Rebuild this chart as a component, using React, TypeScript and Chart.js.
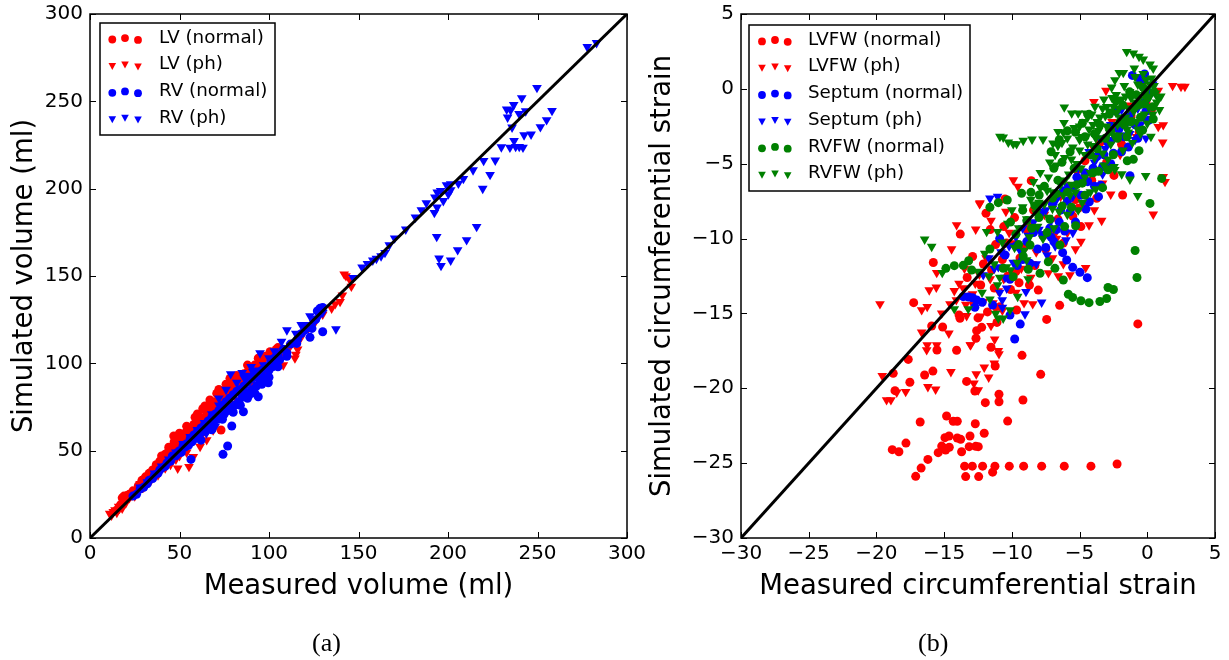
import React, { useEffect, useRef } from "react";
import { Chart, registerables } from "chart.js";

Chart.register(...registerables);

type P = number[];

// ---------- panel (a): volumes ----------
const volumeTicks = [0, 50, 100, 150, 200, 250, 300];
const volumeIdentity: P[] = [[0, 0], [300, 300]];
const volumeLabels = ["LV (normal)", "LV (ph)", "RV (normal)", "RV (ph)"];

const lvNormalVolume: P[] = [
  [15,16],[17,19],[18,23],[19,24],[20,22],[21,24.5],[22,25],[23,24],[24,27],[25,26],[27,30],[28,29],[29,33],[30,32],[31,35],[33,37],[34,36],[35,39],[36,38],[37,42],[38,41],[39,44],[40,43],[41,46],[42,48],[43,45],[44,50],[45,47],[46,52],[46.8,58.4],[47,55],[48,50],[49,54],[50,56],[51,53],[52,58],[53,60],[54,56],[55,63],[56,60],[57,62],[58.7,69.1],[58,65],[59,61],[60,67],[61,64],[62,69],[63,66],[64.2,75.6],[65,70],[66,73],[67,68],[68,76],[69,72],[70.8,82.8],[70,78],[71,74],[72,81],[73,77],[73.2,61.8],[74,83],[75,79],[76,84],[77,80],[78,85],[78.2,91.4],[79,76],[80,88],[81,84],[82,90],[83,87],[84,92],[85,88],[86,94],[87,91],[88,95],[89,92],[90,97],[91,94],[92,99],[94,102.9],[95,98],[96,101],[98,104],[100.6,106.6],[102,105],[104,108],[105,109],
  [40,47],[44,52],[50,60],[54,64],[60,71],[63,74],[67,79],[72,85],[76,88],[82,93],[88,99]
];
const lvPhVolume: P[] = [
  [11,14],[12,13],[13,15],[14,16],[15,14.5],[16,18],[18,17],[20,20],[22,23],[25,24],[28,31],[30,29],[32,35],[34,33],[36,37],[38,36],[40,41],[42,40],[44,46],[45,42],[46,48],[48,45],[49,39.9],[50,47],[52,50],[54,49],[55.3,40.8],[56,55],[57.7,46.5],[58,56],[60,60],[61.5,52.3],[62,58],[64,65],[65.2,56.1],[66,62],[68,70],[68.8,61.8],[70,67],[72,74],[74,71],[76,78],[78,75],[80,82],[82,79],[84,86],[86,84],[88,90],[90,88],[92,94],[94,92],[96,98],[98,96],[100,102],[102,99],[104,106],[106,104],[108,99],[110,108],[112,110],[114.5,102.9],[115,105],[116,108],[118,115],[122,120],[126,124],[130,128],[135,131.5],[137,134],[139.7,135.3],[141,139],[142,151],[143,150],[145,148],[146,144]
];
const rvNormalVolume: P[] = [
  [24,24],[26,25],[28,28],[30,29],[32,31],[33,33],[35,34],[36,36],[38,37],[39,39],[40,40],[42,41],[43,43],[44,44],[45,44],[46,47],[48,47],[49,49],[50,50],[51,49],[52,53],[53,52],[54,54],[55,53],[56,57],[56.4,45],[57,55],[58,59],[59,57],[60,61],[61,59],[62,63],[63,61],[64,65],[65,63],[66,67],[67,65],[68,69],[69,66],[70,71],[71,68],[72,73],[73,70],[74,76],[74.3,47.9],[75,71],[76.9,52.7],[76,78],[77,73],[78,80],[79.2,64.1],[79,75],[80,82],[81,76],[82,84],[83,78],[84,85],[85.7,72.3],[85,81],[86,87],[87,83],[88,89],[89,82],[90,91],[91,85],[92,92],[93,87],[94,80.9],[94,94],[95,90],[96,96],[97,92],[98,98],[99.6,88.9],[100,96],[101,101],[102,98],[103,103],[104,100],[105,105],[106,102],[108,108],[110,106],[112,111],[115.5,111.4],[116,114],[118,117],[120,119],[122.9,114.9],[124,120],[126,125],[127,130],[128.5,131.5],[130,132],[130,118.1],
  [62,56],[68,62],[74,68],[80,72],[84,76],[88,80],[92,83],[96,88],[100,92],[105,98],[110,104]
];
const rvPhVolume: P[] = [
  [28,29],[32,32],[36,37],[40,41],[44,45],[48,49],[52,54],[56,58],[60,62],[64,66],[65,60],[68,71],[70,64],[72,76],[72,80],[75,70],[76,85],[78.6,93.9],[80,75],[82,89],[85,94.6],[85,80],[86,92],[88,93],[90,85],[90,98],[91,95.2],[93,96],[95,105.9],[95,91],[97,99],[100,103],[103,107],[105,103],[107,112.4],[110,119],[115,117],[118,122],[120,122],[122.9,127],[125,123],[128,127],[130,129],[137.4,119.6],[147,149],[152,155],[155,157],[158,159],[160,160],
  [162.6,161.4],[164.8,163.3],[167.2,167.7],[170.2,171.6],[176.4,176.7],[181.8,183.6],[185.1,187.8],[187.9,191.8],[192.4,186.2],[193.9,189.3],[192.7,195],[193.7,172.5],[194,197.9],[195.9,198.8],[195,160.1],[196.1,155.9],[197.4,193],[199.2,202],[200.2,196.9],[201.5,202.6],[201.5,199.2],[201.5,159],[205.4,164.9],[205.8,203],[208.6,205.7],[210.4,170.6],[214,210.6],[216,178.2],[219.4,200],[219.9,216],[223.5,208],[226.4,216.2],[229.8,223.8],[232.8,245.4],[233.3,240.8],[234.6,223.6],[235,245],[235.8,235.1],[236.7,248],[236.9,227.4],[237.8,224],[239.7,242.9],[239.8,224],[241.2,251.9],[241.9,223.6],[242.5,230.7],[243.4,244.4],[246.4,231.1],[249.7,257.8],[251.6,235.3],[255.1,239.3],[258.1,244.6],[277.8,281.2],[283,283.5]
];

// ---------- panel (b): strains ----------
const strainTicks = [-30, -25, -20, -15, -10, -5, 0, 5];
const strainIdentity: P[] = [[-30, -30], [5, 5]];
const strainLabels = ["LVFW (normal)", "LVFW (ph)", "Septum (normal)", "Septum (ph)", "RVFW (normal)", "RVFW (ph)"];

const lvfwNormal: P[] = [
  [-2.23,-25.06],[-4.16,-25.2],[-6.13,-25.2],[-7.8,-25.2],[-9.13,-25.2],[-10.19,-25.2],[-11.25,-25.2],[-12.16,-25.2],[-12.92,-25.2],[-13.49,-25.2],[-11.42,-25.6],[-12.45,-25.9],[-13.41,-25.9],[-17.1,-25.88],[-16.7,-25.33],[-16.2,-24.75],[-18.83,-24.1],[-18.34,-24.24],[-17.82,-23.66],[-16.77,-22.25],[-14.82,-21.85],[-14.33,-22.2],[-14.03,-22.2],[-12.7,-22.37],[-10.31,-22.19],[-12.04,-23.0],[-13.09,-23.19],[-14.03,-23.32],[-13.78,-23.41],[-14.94,-23.3],[-14.64,-23.19],[-13.15,-23.9],[-12.67,-23.88],[-12.48,-23.9],[-13.71,-24.24],[-14.62,-23.94],[-14.89,-24.12],[-15.44,-24.3],[-15.18,-23.86],[-15.0,-24.0],
  [-17.65,-18.07],[-18.76,-19.0],[-16.44,-19.11],[-15.83,-18.85],[-17.53,-19.6],[-18.63,-20.16],[-13.34,-19.54],[-12.73,-20.18],[-11.96,-20.96],[-10.95,-20.4],[-10.95,-20.9],[-9.18,-20.78],[-7.87,-19.07],[-9.25,-17.8],[-11.23,-18.51],[-11.54,-17.26],[-14.08,-17.46],[-15.53,-17.44],
  [-13.81,-9.7],[-15.8,-11.6],[-17.25,-14.28],[-13.83,-15.33],[-15.92,-15.84],[-15.11,-15.91],[-12.6,-16.15],[-12.23,-15.93],[-12.65,-16.66],[-7.43,-15.4],[-6.47,-14.46],[-8.05,-13.44],[-9.47,-12.95],[-9.65,-14.77],[-10.88,-14.55],[-11.91,-8.31],[-10.51,-7.36],
  [-2.46,-5.78],[-1.82,-7.09],[-3.74,-7.31],[-8.57,-6.13],[-5.1,-7.98],[-0.7,-15.7],[-11.2,-10.4],[-10.6,-9.2],[-9.8,-8.6],[-9.1,-10.6],[-8.4,-8.1],[-7.7,-9.8],[-7.1,-7.4],[-6.6,-8.7],[-5.8,-6.5],[-5.3,-7.4],[-4.6,-4.8],[-4.1,-6.1],[-3.5,-3.6],[-3.0,-4.9],[-2.4,-2.6],[-1.9,-3.7],[-1.2,-1.8],[-0.6,-2.9],[-0.1,-0.9],[-12.3,-13.1],[-11.5,-12.1],[-10.7,-11.4],[-10.1,-13.4],
  [-12.8,-14.3],[-12.1,-11.7],[-11.3,-13.3],[-10.3,-12.5],[-9.4,-11.3],[-8.9,-9.4],[-8.3,-11.8],[-7.5,-10.7],[-6.9,-9.6],[-6.2,-10.3],[-5.5,-8.5],[-4.9,-9.2],
  [-13.9,-15.1],[-13.3,-12.6],[-12.5,-15.3],[-11.8,-14.9],[-11.1,-15.6],[-10.4,-10.3],[-9.7,-12.2],[-8.7,-13.1],[-12.9,-11.2],[-11.6,-9.4]
];
const lvfwPh: P[] = [
  [-19.74,-14.37],[-12.38,-7.69],[-14.08,-9.09],[-12.67,-9.38],[-14.45,-10.7],[-15.55,-12.28],[-16.1,-13.44],[-15.58,-13.26],[-14.25,-13.49],[-16.66,-14.77],[-16.25,-14.55],[-15.18,-14.99],[-14.57,-14.37],[-13.34,-15.16],[-11.54,-15.82],[-16.66,-16.26],[-14.65,-16.33],[-16.25,-17.11],[-16.29,-17.44],[-15.55,-17.11],[-13.04,-17.11],[-11.27,-16.73],[-11.0,-17.49],[-10.95,-17.71],[-8.46,-14.37],[-5.71,-12.43],[-4.55,-11.95],[-6.57,-12.5],[-11.54,-8.8],
  [-19.57,-19.16],[-19.25,-20.78],[-18.93,-20.78],[-18.5,-20.27],[-17.84,-20.23],[-16.2,-19.9],[-15.63,-20.07],[-14.5,-18.9],[-12.63,-19.05],[-12.04,-18.6],[-11.71,-19.27],[-12.8,-19.67],[-12.48,-20.12],[-11.3,-18.33],[-13.07,-17.11],
  [1.87,0.21],[2.49,0.15],[2.78,0.15],[-3.05,-0.12],[-3.94,-0.86],[0.81,-0.12],[0.81,-2.53],[1.18,-2.41],[1.14,-3.57],[1.18,-5.87],[1.31,-6.2],[-2.7,-7.05],[0.44,-8.38],[-3.37,-8.8],[-3.91,-8.09],[-9.89,-6.09],[-9.55,-6.53],[-12.36,-7.63],[-10.44,-8.2],
  [-13.2,-13.8],[-12.7,-13.0],[-12.1,-14.2],[-11.6,-12.7],[-11.0,-13.5],[-10.5,-11.2],[-9.9,-10.3],[-9.3,-12.0],[-8.8,-9.1],[-8.2,-10.9],[-7.6,-8.4],[-7.0,-11.3],[-6.4,-7.2],[-5.9,-9.6],[-5.2,-5.6],[-4.7,-7.8],[-4.0,-3.9],[-3.3,-6.3],[-2.6,-2.2],[-2.0,-4.4],[-1.4,-1.1],[-0.8,-3.2],[-0.3,0.3],[0.3,-1.6],[-11.9,-11.3],[-13.9,-13.0],[-13.5,-12.0],[-10.2,-9.6],
  [-13.4,-14.4],[-12.4,-12.4],[-11.2,-14.7],[-10.7,-14.8],[-10.6,-12.7],[-9.7,-13.6],[-8.6,-12.6],[-7.3,-12.3],[-6.7,-10],[-5.3,-10.7],[-4.3,-9.1],
  [-14.1,-14.1],[-13.6,-13.3],[-12.9,-13.7],[-12.3,-15.2],[-11.4,-14.3],[-9.1,-14.3],[-6.2,-11.7],[-4.9,-10.2]
];
const septumNormal: P[] = [
  [-1.4,-3.88],[-3.44,-6.44],[-1.28,-5.8],[-4.28,-7.54],[-4.53,-8.03],[-9.38,-15.71],[-9.79,-16.71],[-10.14,-15.11],[-11.42,-14.44],[-12.73,-14.59],[-12.19,-14.26],[-13.59,-13.88],[-13.2,-13.9],[-12.9,-13.95],[-12.6,-14.1],[-4.97,-12.25],[-4.43,-12.61],[-5.51,-11.92],[-5.95,-11.43],[-6.25,-10.94],[-10.14,-12.72],[-8.66,-11.65],
  [-8.1,-10.7],[-7.7,-9.8],[-7.2,-9.3],[-6.9,-10.2],[-6.5,-8.9],[-6.1,-9.5],[-5.7,-8.2],[-5.3,-8.9],[-4.9,-7.1],[-4.4,-6.2],[-4.0,-5.3],[-3.7,-4.5],[-3.3,-5.2],[-2.9,-3.6],[-2.5,-4.3],[-2.1,-2.7],[-1.7,-3.2],[-1.3,-1.7],[-0.9,-2.4],[-0.5,-0.9],[-0.1,-1.5],[0.2,-0.3],[-0.6,0.7],[-0.2,1.0],[-1.1,0.9],[-9.2,-11.4],[-9.7,-10.5],[-10.5,-11.1],[-7.9,-8.3],[-7.0,-7.7],[-6.2,-6.8],[-5.2,-5.9],[-0.4,-1.9],[0.1,-2.1],[-2.3,-1.5],
  [-7.5,-10.6],[-7.1,-9.9],[-6.7,-9.4],[-6.4,-8.1],[-5.9,-7.5],[-5.5,-6.6],[-4.6,-5.6],[-3.9,-6.5],[-3.2,-4.4],[-2.7,-5],[-1.9,-4.2],[-1.5,-2.1],[-0.7,-3.3],[-8.4,-9.6],[-8.9,-10.2],[-9.6,-11.8],[-10.9,-10],[-3.6,-7.2]
];
const septumPh: P[] = [
  [-11.62,-7.31],[-11.05,-7.2],[-8.96,-13.55],[-7.8,-14.26],[-9.03,-15.04],[-10.71,-14.1],[-10.38,-13.32],[-12.11,-12.43],[-10.9,-13.6],[-11.3,-12.0],[-10.8,-10.9],[-10.2,-10.5],[-9.7,-9.9],[-9.2,-9.3],[-8.8,-9.8],[-8.4,-8.9],[-8,-9.4],[-7.5,-8.1],[-7.1,-8.8],[-6.7,-7.4],[-6.3,-7.9],[-5.9,-6.5],[-5.5,-7.2],[-5.1,-5.3],[-4.7,-6],[-4.3,-4.2],[-3.9,-4.9],[-3.5,-3.3],[-3.1,-4],[-2.7,-2.4],[-2.3,-3.2],[-1.9,-1.4],[-1.5,-2.3],[-1.1,-0.4],[-0.7,-1.3],[-0.3,0.5],[0.1,-0.6],[0.4,0.3],[-6.8,-10.5],[-6,-10.1],[-5.5,-9.6],[-7.4,-11.1],[-8.2,-11.7],[-0.1,-3.3],[-0.9,-3.4],
  [-11.7,-11.3],[-11,-11.9],[-10.5,-12.6],[-9.9,-11.6],[-9.4,-10.8],[-10.7,-14.6],[-3.3,-5.7],[-2.5,-3.4],[-1.3,-3],[-0.5,-2.4]
];
const rvfwNormal: P[] = [
  [1.06,-5.98],[0.2,-7.65],[-0.61,-4.13],[-1.03,-4.71],[-1.48,-4.8],[0.44,-2.01],[-0.34,-2.75],[-0.9,-10.8],[-0.76,-12.6],[-2.9,-13.27],[-2.5,-13.4],[-3.5,-14.2],[-3.0,-14.0],[-5.83,-13.72],[-5.51,-13.93],[-4.9,-14.15],[-4.3,-14.28],
  [-14.87,-11.99],[-14.25,-11.81],[-13.59,-11.79],[-13.19,-11.48],[-12.97,-12.1],[-11.62,-7.91],[-11,-7.6],[-10.34,-7.42],[-11.62,-10.7],[-8.66,-10.43],[-7.92,-12.32],[-6.2,-12.77],[-7.31,-11.55],[-6.82,-11.99],[-6.45,-10.43],[-7.19,-8.71],[-8.54,-9.31],[-9.28,-6.98],[-8.59,-6.91],[-7.98,-7.09],[-6.28,-7.83],[-5.29,-9.14],[-10.64,-11.99],[-9.9,-12.55],[-8.79,-12.05],[-9.16,-11.17],
  [-10.1,-8.9],[-9.7,-9.7],[-9.2,-8.1],[-8.3,-7.8],[-7.6,-6.5],[-7.0,-7.3],[-6.6,-6.1],[-5.9,-6.9],[-5.4,-5.3],[-4.8,-6.3],[-4.2,-4.4],[-3.6,-5.5],[-3.1,-3.3],[-2.5,-4.4],[-2.0,-2.2],[-1.5,-3.2],[-1,-1.3],[-0.5,-1.9],[0,-0.6],[0.4,-1.2],
  [-6.9,-5.3],[-6.3,-4.9],[-5.7,-4.2],[-5.2,-6.4],[-4.6,-3.2],[-4,-5.6],[-3.5,-2.4],[-3.3,-6.6],[-2.8,-1.7],[-2.2,-3.3],[-1.8,-1.1],[-1.2,-2.2],[-0.8,-0.4],[-0.2,-1],[-9.5,-10.4],[-8.9,-8.8],[-8,-8.6],[-7.4,-9.6],[-6.1,-9.2],[-5.6,-7.9],
  [-7.1,-4.2],[-6.5,-3.4],[-5.9,-2.8],[-5.3,-2.9],[-4.8,-2.3],[-4.3,-1.7],[-3.7,-4],[-2.7,-2.8],[-2.3,-0.8],[-1.7,-2.4],[-1.3,-0.2],[-0.7,-1.1],[-0.2,0],[0.5,-0.2],[-6.7,-7],[-4.6,-7.1],[-3.9,-3],[-2.9,-5.4]
];
const rvfwPh: P[] = [
  [-16.44,-10.05],[-15.92,-10.54],[-15.14,-12.28],[-14.25,-14.7],[-13.22,-14.7],[-11.62,-14.05],[-9.57,-13.88],[-10.14,-14.77],[-11.2,-15],[-11,-15.33],[-10.64,-15.33],[-11.86,-9.54],[-11.05,-9.54],[-10.71,-10.25],[-11.05,-13.1],[-8.91,-11.43],[-11.3,-11.7],[-10.4,-11.9],
  [-1.52,2.48],[-1.03,2.37],[-0.61,2.15],[-0.3,1.97],[0.2,1.64],[0.44,1.37],[-0.96,1.37],[-2.07,1.08],[-1.77,1.08],[-2.39,0.59],[-2.63,0.1],
  [-10.88,-3.19],[-10.64,-3.24],[-10.26,-3.57],[-9.9,-3.68],[-9.65,-3.68],[-9.16,-3.46],[-8.51,-3.37],[-7.7,-3.37],[-6.96,-3.64],[-6.59,-2.86],[-6.2,-2.9],[-6.15,-2.26],[-6.13,-1.23],[-5.58,-1.63],[-5.1,-1.63],[-4.53,-1.63],[-3.86,-1.19],[-3.2,-0.7],[0.81,-0.63],[0.27,-3.19],[-0.12,-5.8],[-0.71,-7.14],[-1.28,-6.04],[-1.89,-5.69],[-2.46,-5.2],
  [-9.2,-7.9],[-8.9,-8.7],[-8.6,-7.4],[-8.2,-8.3],[-7.9,-6.6],[-7.6,-7.7],[-7.3,-5.9],[-7,-6.9],[-6.7,-5.1],[-6.4,-6.4],[-6.1,-4.6],[-5.8,-5.7],[-5.5,-3.9],[-5.2,-5],[-4.9,-3.2],[-4.6,-4.4],[-4.3,-2.7],[-4,-3.8],[-3.7,-2.2],[-3.4,-3.3],[-3.1,-1.8],[-2.8,-2.9],[-2.5,-1.2],[-2.2,-2.4],[-1.9,-0.7],[-1.6,-1.9],[-1.3,-0.2],[-1,-1.5],[-0.7,0.3],[-0.4,-1],[-0.1,0.6],[0.2,-0.5],[0.5,0.2],[0.7,-0.9],[-5,-2.5],[-4.4,-1.9],[-3.8,-3.3],[-3.3,-4.3],[-2.7,-3.7],[-2.1,-3.1],[-1.5,-2.7],[-6.6,-3.8],[-7.2,-4.9],[-7.9,-5.6],[-8.4,-6.2],[-5.6,-6.4],[-4.9,-5.3],
  [-8.7,-9.9],[-8.1,-9.2],[-7.7,-10],[-7.3,-8.6],[-6.9,-9.3],[-6.5,-8.2],[-6.2,-7.1],[-5.9,-8.4],[-5.6,-4.7],[-5.3,-6.9],[-5,-4.1],[-4.8,-7.6],[-4.5,-3.2],[-4.2,-5.6],[-4,-2.4],[-3.8,-6.7],[-3.5,-1.9],[-3.2,-5.1],[-3,-1.2],[-2.9,-4.7],[-2.6,-0.6],[-2.4,-5.4],[-2.3,-1.6],[-2,-1.9],[-1.8,-4.1],[-1.7,0.2],[-1.4,-2.9],[-1.2,-0.6],[-1.1,-3.6],[-0.9,0.8],[-0.8,-2.2],[-0.6,-0.7],[-0.5,-3],[-0.3,1],[-0.2,-1.7],[0,0],[0.1,-1.2],[0.3,0.7],[0.4,-1.7],[0.6,-0.3],[0.9,-1.4],[1,-0.5],
  [-10.3,-9],[-10,-8.1],[-9.8,-10.6],[-9.5,-9.3],[-9.1,-10.8],[-12,-11],[-12.5,-12.2],[-12.2,-13.6],[-11.7,-12.5],[-10.9,-12.6],[-10.1,-12.1],[-9.6,-11.6],[-8.8,-12.7],
  [-6.8,-4.4],[-6.3,-3.6],[-5.9,-3.3],[-5.4,-2.6],[-5,-3.4],[-4.7,-2.2],[-4.4,-3.7],[-4.1,-1.7],[-3.9,-4.6],[-3.6,-2.8],[-3.3,-1.3],[-3,-2.5],[-2.7,-1.5],[-2.5,-3.1],[-2.3,-0.4],[-2.1,-1.3],[-1.9,-2.1],[-1.6,-0.5],[-1.4,-1.3],[-1.2,-2.1],[-0.9,-0.9],[-0.7,-2.7],[-0.5,0.2],[-0.2,-0.4],[0,-2.3],[0.2,0.3],[-7,-8],[-6.1,-6.1],[-5.7,-7.1],[-5.1,-8.1],[-4.6,-5.9],[-4.2,-6.9],[-7.4,-6.8],[-8,-7.6]
];

type SeriesDef = { label: string; data: P[]; color: string; style: "circle" | "triangle" };

const RED = "#ff0000";
const BLUE = "#0000ff";
const GREEN = "#008000";
const FONT = "'DejaVu Sans'";

const volumeSeries: SeriesDef[] = [
  { label: volumeLabels[0], data: lvNormalVolume, color: RED, style: "circle" },
  { label: volumeLabels[1], data: lvPhVolume, color: RED, style: "triangle" },
  { label: volumeLabels[2], data: rvNormalVolume, color: BLUE, style: "circle" },
  { label: volumeLabels[3], data: rvPhVolume, color: BLUE, style: "triangle" },
];
const strainSeries: SeriesDef[] = [
  { label: strainLabels[0], data: lvfwNormal, color: RED, style: "circle" },
  { label: strainLabels[1], data: lvfwPh, color: RED, style: "triangle" },
  { label: strainLabels[2], data: septumNormal, color: BLUE, style: "circle" },
  { label: strainLabels[3], data: septumPh, color: BLUE, style: "triangle" },
  { label: strainLabels[4], data: rvfwNormal, color: GREEN, style: "circle" },
  { label: strainLabels[5], data: rvfwPh, color: GREEN, style: "triangle" },
];

type PanelCfg = {
  series: SeriesDef[];
  identity: P[];
  ticks: number[];
  xTitle: string;
  yTitle: string;
  width: number;
  plotLeft: number;
  plotRight: number;
  yTitlePad: number;
  legendBox: { l: number; t: number; r: number; b: number };
  markerX: number[];
  textX: number;
  rowY: number[];
};

const fmt = (v: number) => String(v).replace("-", "\u2212");

function buildChart(canvas: HTMLCanvasElement, c: PanelCfg) {
  const min = c.ticks[0];
  const max = c.ticks[c.ticks.length - 1];
  const step = c.ticks[1] - c.ticks[0];

  const framePlugin = {
    id: "frameAndLegend",
    afterDraw(chart: any) {
      const { ctx, chartArea: a, scales } = chart;
      ctx.save();
      ctx.strokeStyle = "#000";
      ctx.lineWidth = 1;
      ctx.beginPath();
      for (const t of c.ticks) {
        const x = Math.round(scales.x.getPixelForValue(t)) + 0.5;
        const y = Math.round(scales.y.getPixelForValue(t)) + 0.5;
        ctx.moveTo(x, a.bottom); ctx.lineTo(x, a.bottom - 6);
        ctx.moveTo(x, a.top); ctx.lineTo(x, a.top + 6);
        ctx.moveTo(a.left, y); ctx.lineTo(a.left + 6, y);
        ctx.moveTo(a.right, y); ctx.lineTo(a.right - 6, y);
      }
      ctx.stroke();
      ctx.lineWidth = 1.5;
      ctx.strokeRect(a.left, a.top, a.right - a.left, a.bottom - a.top);

      // legend with three scatter points per entry
      const b = c.legendBox;
      ctx.fillStyle = "#fff";
      ctx.fillRect(b.l, b.t, b.r - b.l, b.b - b.t);
      ctx.lineWidth = 1.5;
      ctx.strokeRect(b.l, b.t, b.r - b.l, b.b - b.t);
      const jitter = [1, -0.4, 1.4];
      c.series.forEach((s, i) => {
        const y0 = c.rowY[i];
        ctx.fillStyle = s.color;
        c.markerX.forEach((mx, k) => {
          const my = y0 + jitter[k];
          ctx.beginPath();
          if (s.style === "circle") {
            ctx.arc(mx, my, 3.9, 0, Math.PI * 2);
          } else {
            ctx.moveTo(mx - 3.8, my - 3.2);
            ctx.lineTo(mx + 3.8, my - 3.2);
            ctx.lineTo(mx, my + 3.8);
            ctx.closePath();
          }
          ctx.fill();
        });
        ctx.fillStyle = "#000";
        ctx.font = `18.3px ${FONT}`;
        ctx.textBaseline = "middle";
        ctx.textAlign = "left";
        ctx.fillText(s.label, c.textX, y0 - 0.5);
      });
      ctx.restore();
    },
  };

  const n = c.series.length;
  return new Chart(canvas, {
    type: "scatter",
    plugins: [framePlugin],
    data: {
      datasets: [
        ...c.series.map((s, i) => ({
          label: s.label,
          data: s.data.map(([x, y]) => ({ x, y })),
          order: n - i,
          backgroundColor: s.color,
          borderWidth: 0,
          pointStyle: s.style,
          rotation: s.style === "triangle" ? 180 : 0,
          pointRadius: s.style === "triangle" ? 5.6 : 4.5,
          showLine: false,
        })),
        {
          label: "identity",
          data: c.identity.map(([x, y]) => ({ x, y })),
          order: 0,
          showLine: true,
          borderColor: "#000",
          borderWidth: 3,
          pointRadius: 0,
        },
      ] as any,
    },
    options: {
      animation: false,
      responsive: false,
      devicePixelRatio: 1,
      layout: {
        autoPadding: false,
        padding: { left: 0, top: 14, right: c.width - c.plotRight, bottom: 52 },
      },
      plugins: { legend: { display: false }, tooltip: { enabled: false }, title: { display: false } },
      scales: {
        x: {
          type: "linear",
          min, max,
          afterFit: (s: any) => { s.height = 70; s.paddingLeft = 0; s.paddingRight = 0; },
          grid: { display: false, drawTicks: false },
          border: { display: false },
          ticks: {
            stepSize: step, autoSkip: false, maxRotation: 0, padding: 4, color: "#000",
            font: { family: FONT, size: 20 }, callback: (v: any) => fmt(v),
          },
          title: {
            display: true, text: c.xTitle, color: "#000",
            font: { family: FONT, size: 27.5 }, padding: { top: 0, bottom: 5 },
          },
        },
        y: {
          type: "linear",
          min, max,
          afterFit: (s: any) => { s.width = c.plotLeft; s.paddingTop = 0; s.paddingBottom = 0; },
          grid: { display: false, drawTicks: false },
          border: { display: false },
          ticks: {
            stepSize: step, autoSkip: false, padding: 7, color: "#000",
            font: { family: FONT, size: 20 }, callback: (v: any) => fmt(v),
          },
          title: {
            display: true, text: c.yTitle, color: "#000",
            font: { family: FONT, size: 27.5 }, padding: { top: c.yTitlePad, bottom: 0 },
          },
        },
      },
    } as any,
  });
}

const panelA: PanelCfg = {
  series: volumeSeries, identity: volumeIdentity, ticks: volumeTicks,
  xTitle: "Measured volume (ml)", yTitle: "Simulated volume (ml)",
  width: 650, plotLeft: 90, plotRight: 627, yTitlePad: 8,
  legendBox: { l: 100, t: 23, r: 275, b: 135 },
  markerX: [112.3, 125, 138], textX: 159, rowY: [38.5, 65.2, 91.8, 118.4],
};
const panelB: PanelCfg = {
  series: strainSeries, identity: strainIdentity, ticks: strainTicks,
  xTitle: "Measured circumferential strain", yTitle: "Simulated circumferential strain",
  width: 589, plotLeft: 101, plotRight: 575, yTitlePad: 6,
  legendBox: { l: 109, t: 25, r: 330, b: 191 },
  markerX: [122, 135, 147.7], textX: 168, rowY: [40.4, 67, 94, 120.6, 147.3, 174],
};

const captionStyle: React.CSSProperties = {
  position: "absolute", top: 628, fontFamily: "'Liberation Serif', serif", fontSize: 26, color: "#000",
};

export default function App() {
  const a = useRef<HTMLCanvasElement>(null);
  const b = useRef<HTMLCanvasElement>(null);
  useEffect(() => {
    const ca = buildChart(a.current!, panelA);
    const cb = buildChart(b.current!, panelB);
    return () => { ca.destroy(); cb.destroy(); };
  }, []);
  return (
    <div style={{ position: "absolute", left: 0, top: 0, width: 1229, height: 660, overflow: "hidden", background: "#fff" }}>
      <canvas ref={a} width={650} height={660} style={{ position: "absolute", left: 0, top: 0, width: 650, height: 660 }} />
      <canvas ref={b} width={589} height={660} style={{ position: "absolute", left: 640, top: 0, width: 589, height: 660 }} />
      <div style={{ ...captionStyle, left: 312 }}>(a)</div>
      <div style={{ ...captionStyle, left: 918 }}>(b)</div>
    </div>
  );
}
